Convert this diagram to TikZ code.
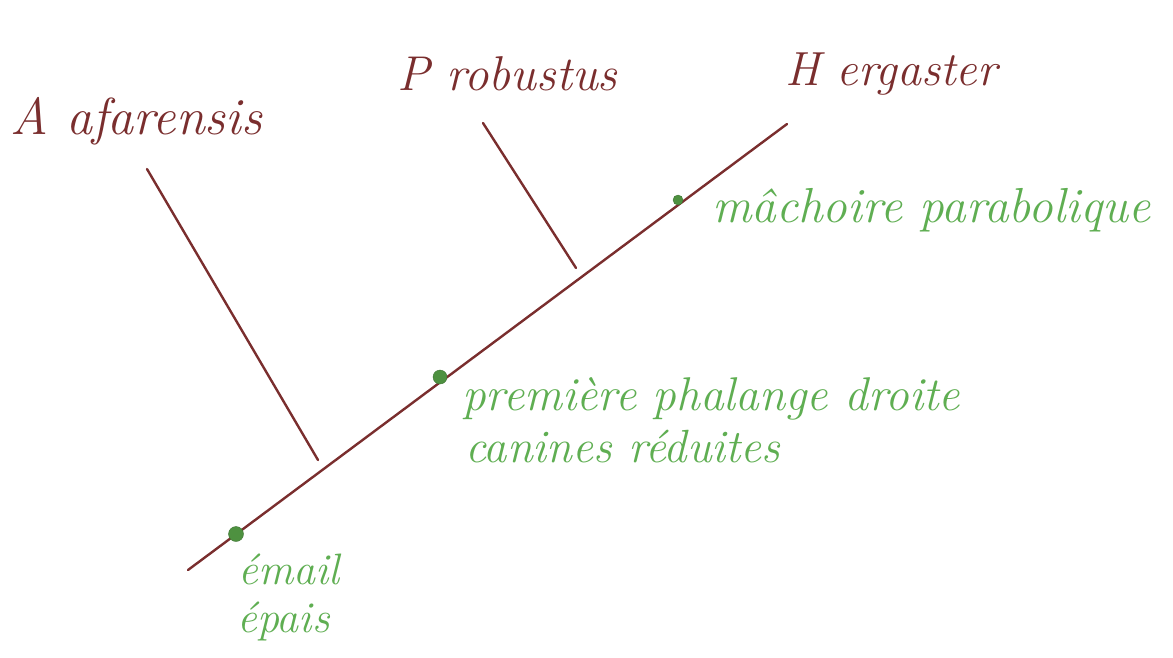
\documentclass[tikz,border=0pt]{standalone}
\usepackage{fontspec}
\definecolor{ink}{HTML}{7A2E2E}
\definecolor{pen}{HTML}{5FAE52}
\definecolor{dotc}{HTML}{4E9140}
\tikzset{
  branch/.style={draw=ink, line width=2.4pt, line cap=round},
  taxon/.style={text=ink, anchor=base west, inner sep=0pt, font=\itshape\fontsize{40}{44}\selectfont},
  trait/.style={text=pen, anchor=base west, inner sep=0pt, font=\itshape\fontsize{40}{44}\selectfont},
  apo/.style={circle, fill=dotc, draw=dotc!80!black, inner sep=0pt, minimum size=11pt},
}
\begin{document}
\begin{tikzpicture}[x=1pt,y=-1pt]
\useasboundingbox (0,0) rectangle (1173,657);
% main stem
\coordinate (root) at (188,570);
\coordinate (tipH) at (787,124);
\draw[branch] (root) -- (tipH);
% side branches
\coordinate (tipA) at (147,169);
\coordinate (baseA) at (318,460);
\coordinate (tipP) at (483,123);
\coordinate (baseP) at (576,268);
\draw[branch] (tipA) -- (baseA);
\draw[branch] (tipP) -- (baseP);
% apomorphy dots
\node[apo, minimum size=15pt] (d1) at (236,534) {};
\node[apo, minimum size=14pt] (d2) at (440,377) {};
\node[apo, minimum size=10pt] (d3) at (678,200) {};
% taxa
\node[taxon] (lA) at (10,134) {\resizebox{252pt}{!}{A afarensis}};
\node[taxon] (lP) at (397,90) {\resizebox{220pt}{!}{P robustus}};
\node[taxon] (lH) at (785,85) {\resizebox{212pt}{!}{H ergaster}};
% traits
\node[trait] (t3) at (712,222) {\resizebox{438pt}{!}{mâchoire parabolique}};
\node[trait] (t2a) at (462,410) {\resizebox{498pt}{!}{première phalange droite}};
\node[trait] (t2b) at (465,462) {\resizebox{315pt}{!}{canines réduites}};
\node[trait, font=\itshape\fontsize{44}{46}\selectfont] (t1a) at (238,584) {émail};
\node[trait, font=\itshape\fontsize{44}{46}\selectfont] (t1b) at (237,632) {épais};
\end{tikzpicture}
\end{document}
